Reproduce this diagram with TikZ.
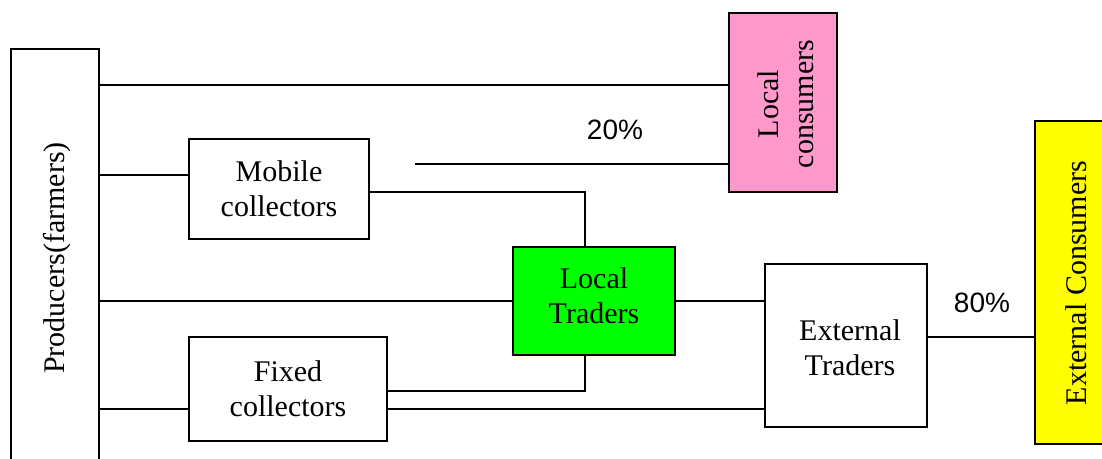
\documentclass[tikz,border=0pt]{standalone}
\usepackage{fontspec}
\setmainfont{Liberation Serif}
\newfontfamily\pctfont{Liberation Sans}
\definecolor{pinkbox}{RGB}{255,153,204}
\definecolor{greenbox}{RGB}{0,255,0}
\definecolor{yellowbox}{RGB}{255,255,0}
\begin{document}
\begin{tikzpicture}[x=1pt,y=-1pt,
  boxstyle/.style={draw=black,line width=1.5pt,rectangle,inner sep=0pt,align=center,
    font=\fontsize{30}{35}\selectfont},
  txt/.style={font=\fontsize{30}{35}\selectfont,align=center,inner sep=0pt},
  conn/.style={line width=1.5pt},
  pct/.style={font=\pctfont\fontsize{28}{32}\selectfont,inner sep=0pt}]
\useasboundingbox (0,0) rectangle (1102,458);
\clip (0,0) rectangle (1102,458);
\node[boxstyle,minimum width=88,minimum height=431] (prod) at (55,264.5) {};
\node[txt,rotate=90] (prodtxt) at (57,258) {Producers(farmers)};
\node[boxstyle,fill=pinkbox,minimum width=108,minimum height=179] (lc) at (783,102.5) {};
\node[txt,rotate=90] (lctxt) at (786,104) {Local\\consumers};
\node[boxstyle,fill=yellowbox,minimum width=72,minimum height=323] (ec) at (1071,282.5) {};
\node[txt,rotate=90] (ectxt) at (1076,283) {External Consumers};
\node[boxstyle,minimum width=180,minimum height=100] (mob) at (279,189) {Mobile\\collectors};
\node[boxstyle,fill=greenbox,minimum width=162,minimum height=108] (lt) at (594,301) {};
\node[txt] (lttxt) at (594,296) {Local\\Traders};
\node[boxstyle,minimum width=162,minimum height=163] (et) at (846,345.5) {};
\node[txt] (ettxt) at (850,348) {External\\Traders};
\node[boxstyle,minimum width=198,minimum height=104] (fc) at (288,389) {Fixed\\collectors};
\coordinate (free) at (415,164);
\draw[conn] (prod.east |- 0,85) -- (lc.west |- 0,85);
\draw[conn] (free) -- (lc.west |- free);
\draw[conn] (prod.east |- 0,175) -- (mob.west |- 0,175);
\draw[conn] (mob.east |- 0,192) -| ([xshift=-9pt]lt.north);
\draw[conn] (prod.east |- lt.west) -- (lt.west);
\draw[conn] (lt.east) -- (et.west |- lt.east);
\draw[conn] ([xshift=-9pt]lt.south) |- (fc.east |- 0,391);
\draw[conn] (prod.east |- 0,409) -- (fc.west |- 0,409);
\draw[conn] (fc.east |- 0,409) -- (et.west |- 0,409);
\draw[conn] (et.east |- 0,337) -- (ec.west |- 0,337);
\node[pct] (p20) at (615,130) {20\%};
\node[pct] (p80) at (982,303) {80\%};
\end{tikzpicture}
\end{document}
